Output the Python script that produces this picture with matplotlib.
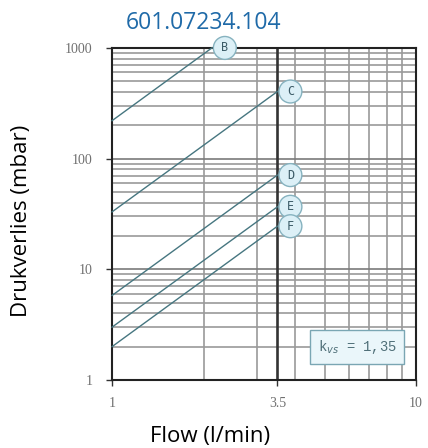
import matplotlib
matplotlib.use("Agg")
import matplotlib.pyplot as plt
from matplotlib.ticker import FixedLocator, NullFormatter

# Data
curve_names = ["B", "C", "D", "E", "F"]
flow_start = [1.0, 1.0, 1.0, 1.0, 1.0]
flow_end = [2.13, 3.5, 3.5, 3.5, 3.5]
dp_start = [220, 33, 5.8, 3.0, 2.0]
dp_end = [1000, 404, 71, 36.7, 24.5]
x_ticks = [1, 3.5, 10]
x_ticklabels = ["1", "3.5", "10"]
y_ticks = [1, 10, 100, 1000]
y_ticklabels = ["1", "10", "100", "1000"]
kvs_text = "k$_{vs}$ = 1,35"
title = "601.07234.104"

fig = plt.figure(figsize=(4.28, 4.48), dpi=100)
ax = fig.add_axes([0.2617, 0.1518, 0.7103, 0.7412])
ax.set_xscale("log")
ax.set_yscale("log")
ax.set_xlim(1, 10)
ax.set_ylim(1, 1000)

grid_c = "#9a9a9a"
# vertical grid
for v in [2, 3, 4, 5, 6, 7, 8, 9]:
    ax.axvline(v, color=grid_c, lw=1.2, zorder=1)
ax.axvline(3.5, color="#333333", lw=1.9, zorder=2)
# horizontal grid
for dec in [1, 10, 100]:
    for m in range(2, 10):
        ax.axhline(dec * m, color=grid_c, lw=1.2, zorder=1)
for v in [10, 100]:
    ax.axhline(v, color="#7a7a7a", lw=1.2, zorder=1)

line_c = "#467680"
for name, x0, x1, y0, y1 in zip(curve_names, flow_start, flow_end, dp_start, dp_end):
    ax.plot([x0, x1], [y0, y1], color=line_c, lw=1.0, zorder=3, clip_on=False)
    ax.annotate(name, xy=(x1, y1), xytext=(13, 0), textcoords="offset pixels",
                ha="center", va="center", fontsize=8.5, color="#3a5a66",
                family="DejaVu Sans Mono", zorder=5, annotation_clip=False,
                bbox=dict(boxstyle="circle,pad=0.42", fc="#dcf0f7", ec="#86b2bf", lw=1.0))

ax.text(0.806, 0.099, kvs_text, transform=ax.transAxes, ha="center", va="center",
        fontsize=10, color="#4f6f78", family="Liberation Mono", zorder=6,
        bbox=dict(boxstyle="square,pad=0.55", fc="#eaf6fa", ec="#7aa6b3", lw=1.0))

for s in ax.spines.values():
    s.set_color("#222222")
    s.set_linewidth(1.5)

ax.xaxis.set_major_locator(FixedLocator(x_ticks))
ax.set_xticklabels(x_ticklabels)
ax.xaxis.set_minor_formatter(NullFormatter())
ax.xaxis.set_minor_locator(FixedLocator([]))
ax.yaxis.set_major_locator(FixedLocator(y_ticks))
ax.set_yticklabels(y_ticklabels)
ax.yaxis.set_minor_locator(FixedLocator([]))
ax.tick_params(axis="both", which="major", labelsize=10, labelcolor="#707070",
               color="#333333", length=4, width=1.0)
for lab in ax.get_xticklabels() + ax.get_yticklabels():
    lab.set_family("Liberation Serif")
ax.tick_params(axis="x", pad=8)
ax.tick_params(axis="y", pad=10)

ax.set_xlabel("Flow (l/min)", fontsize=16, family="Open Sans")
ax.xaxis.set_label_coords(0.322, -0.14)
ax.set_ylabel("Drukverlies (mbar)", fontsize=16, family="Open Sans")
ax.yaxis.set_label_coords(-0.262, 0.48)
fig.text(0.475, 0.948, title, ha="center", va="center", fontsize=16.5,
         color="#1f6aa8", family="Open Sans")

fig.savefig("out.png", dpi=100)
